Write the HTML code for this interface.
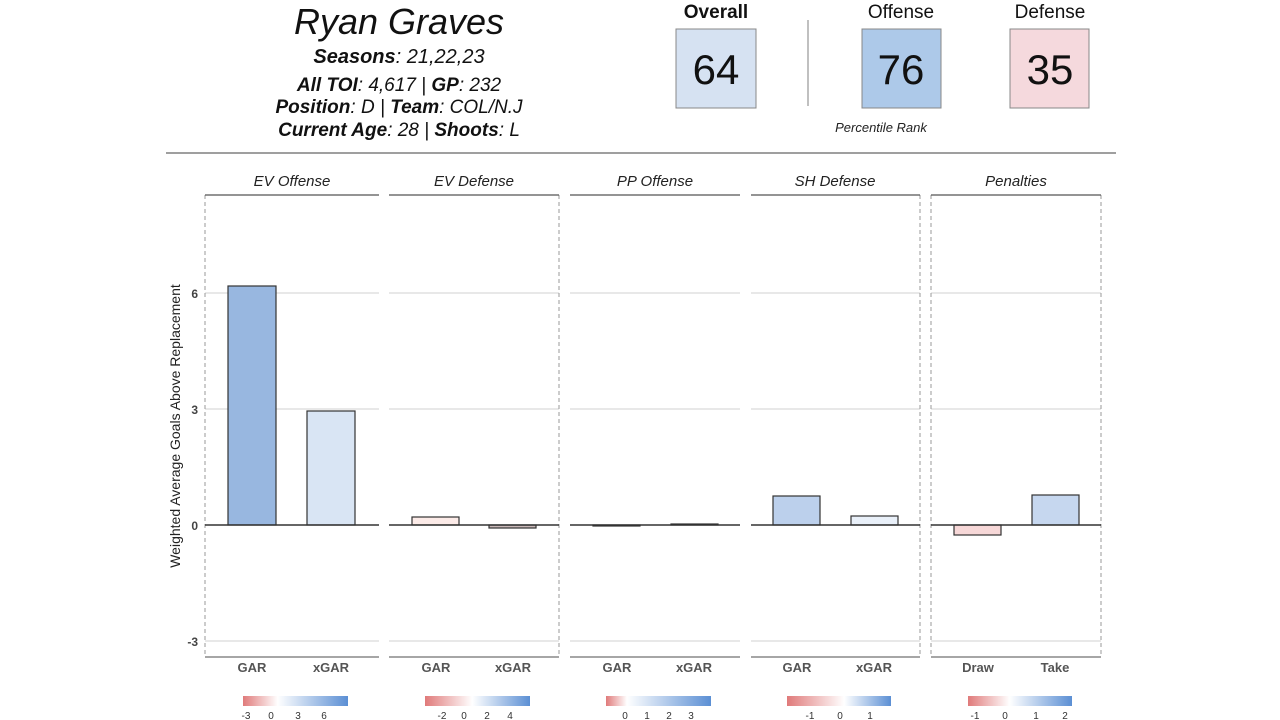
<!DOCTYPE html>
<html><head><meta charset="utf-8"><style>
body{margin:0;background:#fff;}
svg{display:block;font-family:"Liberation Sans",sans-serif;}
</style></head><body>
<svg width="1280" height="720" viewBox="0 0 1280 720" xmlns="http://www.w3.org/2000/svg">
<defs>
<linearGradient id="g1" x1="0" x2="1"><stop offset="0" stop-color="#e07a7a"/><stop offset="0.33" stop-color="#fff"/><stop offset="1" stop-color="#5b8fd4"/></linearGradient>
<linearGradient id="g2" x1="0" x2="1"><stop offset="0" stop-color="#e07a7a"/><stop offset="0.45" stop-color="#fff"/><stop offset="1" stop-color="#5b8fd4"/></linearGradient>
<linearGradient id="g3" x1="0" x2="1"><stop offset="0" stop-color="#e07a7a"/><stop offset="0.2" stop-color="#fff"/><stop offset="1" stop-color="#5b8fd4"/></linearGradient>
<linearGradient id="g4" x1="0" x2="1"><stop offset="0" stop-color="#e07a7a"/><stop offset="0.55" stop-color="#fff"/><stop offset="1" stop-color="#5b8fd4"/></linearGradient>
<linearGradient id="g5" x1="0" x2="1"><stop offset="0" stop-color="#e07a7a"/><stop offset="0.4" stop-color="#fff"/><stop offset="1" stop-color="#5b8fd4"/></linearGradient>
</defs>
<!-- header -->
<g text-anchor="middle" fill="#111">
<text x="399" y="34" font-size="36" font-style="italic">Ryan Graves</text>
<text x="399" y="63" font-size="20" font-style="italic"><tspan font-weight="bold">Seasons</tspan>: 21,22,23</text>
<text x="399" y="91" font-size="19" font-style="italic"><tspan font-weight="bold">All TOI</tspan>: 4,617 | <tspan font-weight="bold">GP</tspan>: 232</text>
<text x="399" y="113" font-size="19" font-style="italic"><tspan font-weight="bold">Position</tspan>: D | <tspan font-weight="bold">Team</tspan>: COL/N.J</text>
<text x="399" y="136" font-size="19" font-style="italic"><tspan font-weight="bold">Current Age</tspan>: 28 | <tspan font-weight="bold">Shoots</tspan>: L</text>
<text x="716" y="18" font-size="19" font-weight="bold">Overall</text>
<text x="901" y="18" font-size="19">Offense</text>
<text x="1050" y="18" font-size="19">Defense</text>
</g>
<rect x="676" y="29" width="80" height="79" fill="#d6e2f2" stroke="#888"/>
<rect x="862" y="29" width="79" height="79" fill="#adc9e9" stroke="#888"/>
<rect x="1010" y="29" width="79" height="79" fill="#f5d9dd" stroke="#888"/>
<g text-anchor="middle" font-size="42" fill="#111">
<text x="716" y="84">64</text><text x="901" y="84">76</text><text x="1050" y="84">35</text>
</g>
<line x1="808" y1="20" x2="808" y2="106" stroke="#aaa" stroke-width="1.5"/>
<text x="881" y="132" font-size="13" font-style="italic" text-anchor="middle" fill="#222">Percentile Rank</text>
<line x1="166" y1="153" x2="1116" y2="153" stroke="#666" stroke-width="1.2"/>

<!-- axis title -->
<text transform="translate(180,426) rotate(-90)" font-size="14" text-anchor="middle" fill="#222">Weighted Average Goals Above Replacement</text>
<g font-size="12" font-weight="bold" fill="#444" text-anchor="end">
<text x="198" y="298">6</text><text x="198" y="414">3</text><text x="198" y="530">0</text><text x="198" y="646">-3</text>
</g>

<!-- panels -->
<g stroke="#d0d0d0" stroke-width="1">
<path d="M205 293H379M389 293H559M570 293H740M751 293H920M931 293H1101"/>
<path d="M205 409H379M389 409H559M570 409H740M751 409H920M931 409H1101"/>
<path d="M205 641H379M389 641H559M570 641H740M751 641H920M931 641H1101"/>
</g>
<g stroke="#999" stroke-width="1" stroke-dasharray="4,3">
<path d="M205 195V657M559 195V657M920 195V657M931 195V657M1101 195V657"/>
</g>
<g stroke="#555" stroke-width="1.2">
<path d="M205 195H379M389 195H559M570 195H740M751 195H920M931 195H1101"/>
</g>
<g stroke="#888" stroke-width="1.5">
<path d="M205 657H379M389 657H559M570 657H740M751 657H920M931 657H1101"/>
</g>
<g font-size="15" font-style="italic" text-anchor="middle" fill="#222">
<text x="292" y="186">EV Offense</text><text x="474" y="186">EV Defense</text><text x="655" y="186">PP Offense</text><text x="835" y="186">SH Defense</text><text x="1016" y="186">Penalties</text>
</g>

<!-- bars -->
<g stroke="#333" stroke-width="1.2">
<rect x="228" y="286" width="48" height="239" fill="#98b7e0"/>
<rect x="307" y="411" width="48" height="114" fill="#d9e5f4"/>
<rect x="412" y="517" width="47" height="8" fill="#fcebe8"/>
<rect x="489" y="525" width="47" height="3" fill="#c9b8b8"/>
<rect x="593" y="525" width="47" height="1" fill="#222"/>
<rect x="671" y="524" width="47" height="1" fill="#222"/>
<rect x="773" y="496" width="47" height="29" fill="#bcd0ec"/>
<rect x="851" y="516" width="47" height="9" fill="#e9f0f9"/>
<rect x="954" y="525" width="47" height="10" fill="#f7d8d8"/>
<rect x="1032" y="495" width="47" height="30" fill="#c6d7ef"/>
</g>
<g stroke="#333" stroke-width="1.5">
<path d="M205 525H379M389 525H559M570 525H740M751 525H920M931 525H1101"/>
</g>

<g font-size="13" font-weight="bold" fill="#555" text-anchor="middle">
<text x="252" y="672">GAR</text><text x="331" y="672">xGAR</text>
<text x="436" y="672">GAR</text><text x="513" y="672">xGAR</text>
<text x="617" y="672">GAR</text><text x="694" y="672">xGAR</text>
<text x="797" y="672">GAR</text><text x="874" y="672">xGAR</text>
<text x="978" y="672">Draw</text><text x="1055" y="672">Take</text>
</g>

<!-- legends -->
<rect x="243" y="696" width="105" height="10" fill="url(#g1)"/>
<rect x="425" y="696" width="105" height="10" fill="url(#g2)"/>
<rect x="606" y="696" width="105" height="10" fill="url(#g3)"/>
<rect x="787" y="696" width="104" height="10" fill="url(#g4)"/>
<rect x="968" y="696" width="104" height="10" fill="url(#g5)"/>
<g font-size="10" fill="#333" text-anchor="middle">
<text x="246" y="719">-3</text><text x="271" y="719">0</text><text x="298" y="719">3</text><text x="324" y="719">6</text>
<text x="442" y="719">-2</text><text x="464" y="719">0</text><text x="487" y="719">2</text><text x="510" y="719">4</text>
<text x="625" y="719">0</text><text x="647" y="719">1</text><text x="669" y="719">2</text><text x="691" y="719">3</text>
<text x="810" y="719">-1</text><text x="840" y="719">0</text><text x="870" y="719">1</text>
<text x="975" y="719">-1</text><text x="1005" y="719">0</text><text x="1036" y="719">1</text><text x="1065" y="719">2</text>
</g>
</svg>
</body></html>
